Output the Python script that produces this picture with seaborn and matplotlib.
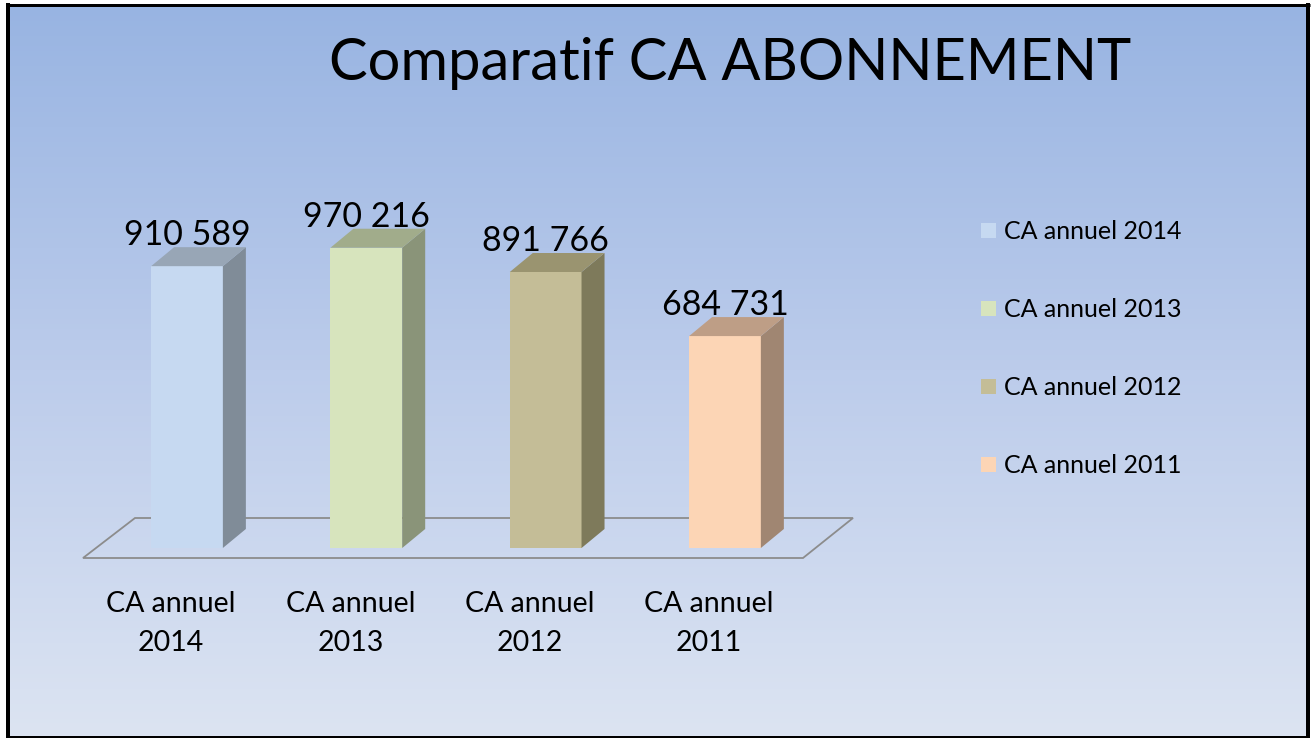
import numpy as np
import matplotlib
matplotlib.use("Agg")
import matplotlib.pyplot as plt
import seaborn as sns
from matplotlib.patches import Polygon, Rectangle
from matplotlib.colors import LinearSegmentedColormap

# ---- data -------------------------------------------------------------
categories = ["CA annuel 2014", "CA annuel 2013", "CA annuel 2012", "CA annuel 2011"]
tick_lines = [("CA annuel", "2014"), ("CA annuel", "2013"),
              ("CA annuel", "2012"), ("CA annuel", "2011")]
values = [910589, 970216, 891766, 684731]
title = "Comparatif CA ABONNEMENT"

# ---- styling ----------------------------------------------------------
front_colors = ["#C6D9F1", "#D7E4BD", "#C4BD97", "#FCD5B5"]
side_colors = ["#808C98", "#8A9479", "#7E7A5B", "#A08672"]
top_colors = ["#98A6B6", "#A1AC8B", "#9A9470", "#BE9E86"]

sns.set_theme(style="white")
plt.rcParams["font.family"] = ["Lato", "DejaVu Sans"]

W, H = 1316, 738
fig = plt.figure(figsize=(W / 100, H / 100), dpi=100)
fig.patch.set_facecolor("white")

# background layer in pixel coordinates
bg = fig.add_axes([0, 0, 1, 1], zorder=0)
bg.set_xlim(0, W)
bg.set_ylim(H, 0)
bg.axis("off")

grad_cmap = LinearSegmentedColormap.from_list(
    "sky", ["#98B4E2", "#BCCCEB", "#DCE4F2"])
grad = np.linspace(0, 1, 256).reshape(-1, 1)
bg.imshow(grad, cmap=grad_cmap, extent=[8, 1308, 736, 4],
          aspect="auto", interpolation="bilinear", zorder=0)

# frame
bg.plot([8, 8], [3, 737], color="black", lw=4 * 0.72, solid_capstyle="butt", zorder=5)
bg.plot([1308, 1308], [3, 737], color="black", lw=4 * 0.72, solid_capstyle="butt", zorder=5)
bg.plot([6, 1310], [4.5, 4.5], color="black", lw=3 * 0.72, solid_capstyle="butt", zorder=5)
bg.plot([6, 1310], [736.5, 736.5], color="black", lw=2 * 0.72, solid_capstyle="butt", zorder=5)

# floor of the 3-D plot area
floor = Polygon([(83, 558), (135, 518), (853, 518), (803, 558)], closed=True,
                facecolor="none", edgecolor="#8C8C8C", lw=1.3, zorder=1)
bg.add_patch(floor)

bg.text(730, 80, title, ha="center", va="baseline", fontsize=41.7, color="black")

# ---- bars -------------------------------------------------------------
step = 179.33          # pixels between category centres
x0 = 187.0             # pixel centre of the first category
scale = 3.095e-4       # pixels per euro
base = 548.0           # pixel row of the zero line
ax = fig.add_axes([0, 0, 1, 1], zorder=1)
ax.patch.set_alpha(0)

sns.barplot(x=categories, y=values, hue=categories, palette=front_colors,
            width=0.4, saturation=1, legend=False, ax=ax, linewidth=0)

ax.set_xlim(-x0 / step, (W - x0) / step)
ax.set_ylim(-(H - base) / scale, base / scale)
ax.axis("off")

ddx = 23 / step
ddy = 19 / scale
for i, patch in enumerate(ax.patches[:len(values)]):
    x, w, h = patch.get_x(), patch.get_width(), patch.get_height()
    side = Polygon([(x + w, 0), (x + w + ddx, ddy), (x + w + ddx, h + ddy), (x + w, h)],
                   closed=True, facecolor=side_colors[i], edgecolor="none", zorder=3)
    top = Polygon([(x, h), (x + ddx, h + ddy), (x + w + ddx, h + ddy), (x + w, h)],
                  closed=True, facecolor=top_colors[i], edgecolor="none", zorder=3)
    ax.add_patch(side)
    ax.add_patch(top)
    label = f"{values[i]:,}".replace(",", " ")
    ax.annotate(label, (x + w / 2, h + ddy), xytext=(0, 1.5),
                textcoords="offset points", ha="center", va="baseline",
                fontsize=24.5, color="black", zorder=4)

# category labels under the floor
for i, (l1, l2) in enumerate(tick_lines):
    cx = x0 + i * step - 16
    bg.text(cx, 612, l1, ha="center", va="baseline", fontsize=20.5, color="black")
    bg.text(cx, 651, l2, ha="center", va="baseline", fontsize=20.5, color="black")

# legend
for i, cat in enumerate(categories):
    cy = 230 + i * 78
    bg.add_patch(Rectangle((981, cy - 7.5), 15, 15, facecolor=front_colors[i],
                           edgecolor="none", zorder=2))
    bg.text(1004, cy + 9, cat, ha="left", va="baseline", fontsize=18, color="black")

fig.savefig("out.png", dpi=100)
